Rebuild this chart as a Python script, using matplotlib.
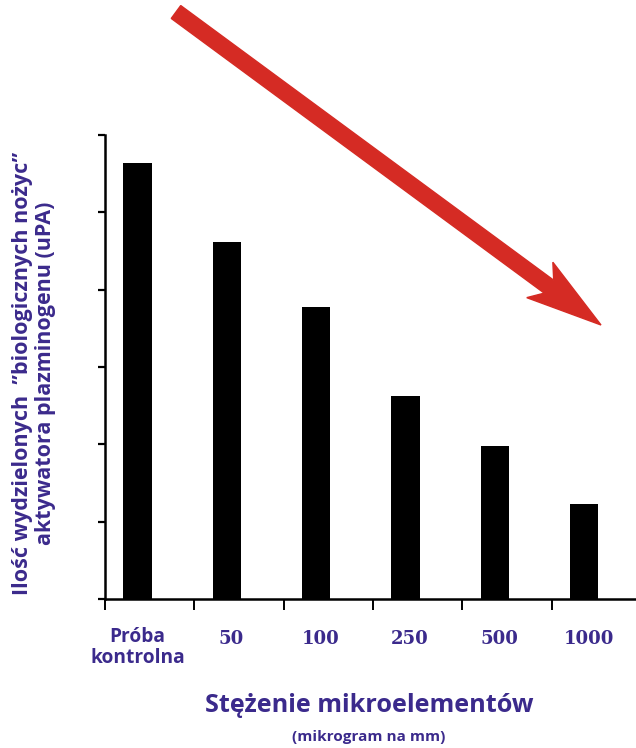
import matplotlib.pyplot as plt
from matplotlib.patches import FancyArrow

# Values (arbitrary units, y axis has 6 unlabeled ticks)
categories = ["Próba\nkontrolna", "50", "100", "250", "500", "1000"]
values = [5.64, 4.61, 3.78, 2.63, 1.98, 1.23]

purple = "#3b2a8c"
plt.rcParams["font.family"] = ["Open Sans", "DejaVu Sans"]

fig = plt.figure(figsize=(6.36, 7.48), dpi=100)
ax = fig.add_axes([105 / 636, 1 - 599 / 748, 1 - 105 / 636, (599 - 135) / 748])

x = list(range(len(categories)))
ax.bar(x, values, width=0.32, color="black", zorder=3)

ax.set_xlim(-0.364, 5.58)
ax.set_ylim(0, 6)

# axes: only left and bottom lines
for side in ["top", "right"]:
    ax.spines[side].set_visible(False)
for side in ["left", "bottom"]:
    ax.spines[side].set_linewidth(1.8)

ax.set_yticks(range(7))
ax.set_yticklabels([])
ax.tick_params(axis="y", direction="out", length=5, width=1.6)

ax.set_xticks([k - 0.364 for k in range(6)])
ax.set_xticklabels([])
ax.tick_params(axis="x", direction="out", length=8, width=1.4)

# category labels under the bars
for i, lab in enumerate(categories):
    if i == 0:
        ax.text(i, -0.36, lab, ha="center", va="top", color=purple,
                fontsize=13.8, fontweight="bold", linespacing=1.05)
    else:
        ax.text(i + 0.05, -0.52, lab, ha="center", va="center", color=purple,
                fontsize=13, fontweight="bold", family="DejaVu Serif")

fig.text(369 / 636, 1 - 706 / 748, "Stężenie mikroelementów", ha="center", va="center",
         color=purple, fontsize=18.2, fontweight="bold")
fig.text(369 / 636, 1 - 737 / 748, "(mikrogram na mm)", ha="center", va="center",
         color=purple, fontsize=11, fontweight="bold")
fig.text(34 / 636, 1 - 373 / 748,
         "Ilość wydzielonych  ”biologicznych nożyc”\naktywatora plazminogenu (uPA)",
         ha="center", va="center", rotation=90, color=purple,
         fontsize=15.5, fontweight="bold", linespacing=1.15)

# big red arrow over the chart, drawn in pixel coordinates
ov = fig.add_axes([0, 0, 1, 1])
ov.set_xlim(0, 636)
ov.set_ylim(748, 0)
ov.axis("off")
ov.patch.set_alpha(0)
ov.add_patch(FancyArrow(176, 12, 425, 313, width=16, head_width=44, head_length=76,
                        length_includes_head=True, color="#d52b24", overhang=0.15))

fig.savefig("out.png", dpi=100)
